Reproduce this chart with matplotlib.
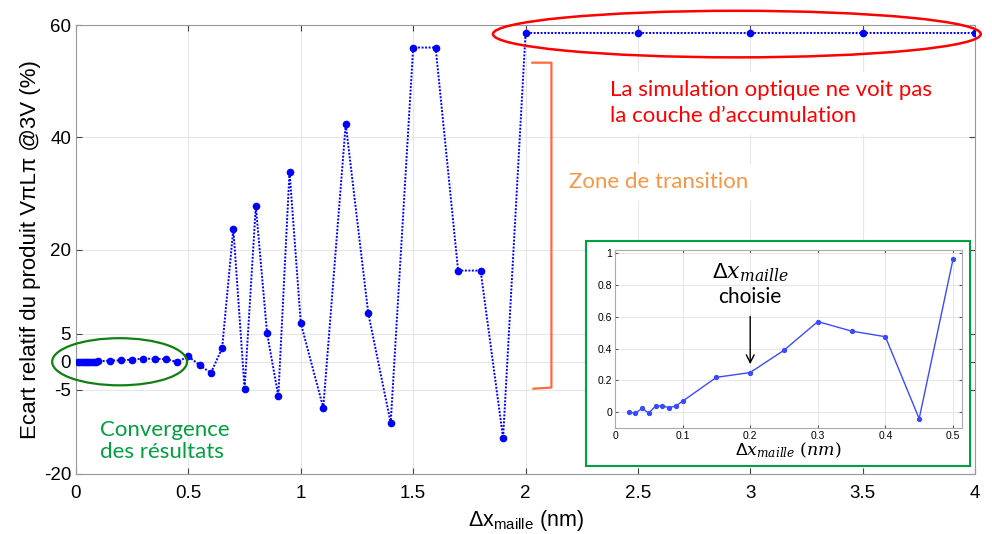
import numpy as np
import matplotlib
matplotlib.use("Agg")
import matplotlib.pyplot as plt
from matplotlib.patches import Ellipse, Rectangle

plt.rcParams['font.family'] = ['Liberation Sans', 'DejaVu Sans']
plt.rcParams['mathtext.default'] = 'regular'
plt.rcParams['axes.unicode_minus'] = False

# main curve: relative deviation (%) vs mesh step (nm)
x_main = [0.01, 0.02, 0.03, 0.04, 0.05, 0.06, 0.07, 0.08, 0.09, 0.10,
          0.15, 0.20, 0.25, 0.30, 0.35, 0.40, 0.45, 0.50,
          0.55, 0.60, 0.65, 0.70, 0.75, 0.80, 0.85, 0.90, 0.95, 1.00,
          1.1, 1.2, 1.3, 1.4, 1.5, 1.6, 1.7, 1.8, 1.9, 2.0,
          2.5, 3.0, 3.5, 4.0]
y_main = [0.0, 0.0, -0.005, 0.025, -0.005, 0.04, 0.04, 0.03, 0.04, 0.07,
          0.22, 0.25, 0.39, 0.57, 0.51, 0.475, -0.04, 0.96,
          -0.6, -2.0, 2.4, 23.7, -4.8, 27.7, 5.1, -6.1, 33.9, 6.9,
          -8.2, 42.4, 8.7, -10.9, 56.0, 56.0, 16.25, 16.25, -13.6, 58.6,
          58.6, 58.6, 58.6, 58.6]

# inset zoom on the converged region
x_zoom = [0.02, 0.03, 0.04, 0.05, 0.06, 0.07, 0.08, 0.09, 0.10,
          0.15, 0.20, 0.25, 0.30, 0.35, 0.40, 0.45, 0.50]
y_zoom = [0.0, -0.005, 0.025, -0.005, 0.04, 0.04, 0.03, 0.04, 0.07,
          0.22, 0.25, 0.39, 0.57, 0.51, 0.475, -0.04, 0.96]

y_ticks = [-20, -5, 0, 5, 20, 40, 60]
x_ticks = [0, 0.5, 1, 1.5, 2, 2.5, 3, 3.5, 4]
x_ticklabels = ['0', '0.5', '1', '1.5', '2', '2.5', '3', '3.5', '4']

GREEN = '#00A040'
RED = '#FF0000'
ORANGE = '#F79646'
BRACKET = '#FF6A3D'
ANNOT_FONT = ['Lato', 'DejaVu Sans']

fig = plt.figure(figsize=(9.92, 5.34), dpi=100)
ax = fig.add_axes([0.0766, 0.1124, 0.9064, 0.8406])

ax.plot(x_main, y_main, ls=(0, (1, 0.8)), lw=1.4, color='#0000FF', marker='o',
        ms=4.5, zorder=3)
ax.set_xlim(0, 4)
ax.set_ylim(-20, 60)
ax.set_xticks(x_ticks)
ax.set_xticklabels(x_ticklabels)
ax.set_yticks(y_ticks)
ax.grid(True, color='#e6e6e6', lw=0.8)
ax.tick_params(direction='in', length=4, labelsize=13.5, top=True, right=True,
               color='#444444')
ax.tick_params(axis='x', pad=8)
for s in ax.spines.values():
    s.set_color('#999999')
ax.set_ylabel('Ecart relatif du produit V\u03c0L\u03c0 @3V (%)', fontsize=16,
              labelpad=2)
ax.set_xlabel('\u0394x$_{maille}$ (nm)', fontsize=15.5, labelpad=4)

# green ellipse: converged region
ax.add_patch(Ellipse((0.194, 0.0), 0.6, 8.4, fill=False, ec='#108010',
                     lw=1.6, clip_on=False, zorder=4))
ax.text(0.105, -10.3, 'Convergence\ndes r\u00e9sultats', color=GREEN,
        fontsize=16, family=ANNOT_FONT, va='top', ha='left', linespacing=1.15)

# red ellipse: accumulation layer not seen
ax.add_patch(Ellipse((2.94, 58.4), 2.17, 8.3, fill=False, ec=RED,
                     lw=1.8, clip_on=False, zorder=4))
ax.text(2.375, 50.2, 'La simulation optique ne voit pas\nla couche d\u2019accumulation',
        color=RED, fontsize=16, family=ANNOT_FONT, va='top', ha='left',
        linespacing=1.4,
        bbox=dict(facecolor='white', edgecolor='none', pad=6), zorder=5)

# orange bracket: transition zone
ax.plot([2.03, 2.115, 2.115, 2.035], [53.3, 53.3, -4.6, -4.8], color=BRACKET,
        lw=1.6, zorder=4)
ax.text(2.195, 32.0, 'Zone de transition', color=ORANGE, fontsize=16,
        family=ANNOT_FONT, va='center', ha='left',
        bbox=dict(facecolor='white', edgecolor='none', pad=6), zorder=5)

# inset
fig.add_artist(Rectangle((0.5907, 0.1273), 0.387, 0.4213, transform=fig.transFigure,
                         facecolor='white', edgecolor=GREEN, lw=1.5, zorder=6))
ins = fig.add_axes([0.62, 0.198, 0.3495, 0.334], zorder=7)
ins.plot(x_zoom, y_zoom, color='#3a4bff', lw=1.0, marker='o', ms=2.8)
ins.set_xlim(0, 0.513)
ins.set_ylim(-0.1, 1.02)
ins.set_xticks([0, 0.1, 0.2, 0.3, 0.4, 0.5])
ins.set_xticklabels(['0', '0.1', '0.2', '0.3', '0.4', '0.5'])
ins.set_yticks([0, 0.2, 0.4, 0.6, 0.8, 1])
ins.set_yticklabels(['0', '0.2', '0.4', '0.6', '0.8', '1'])
ins.grid(True, color='#e6e6e6', lw=0.7)
ins.tick_params(direction='in', length=2.5, labelsize=7.5, top=True, right=True,
                color='#555555', pad=2)
for s in ins.spines.values():
    s.set_color('#aaaaaa')
ins.set_xlabel(r'$\Delta \mathit{x}_{\mathit{maille}}\ \mathit{(nm)}$', fontsize=12.5,
               labelpad=0, math_fontfamily='dejavuserif')
ins.text(0.2, 0.875, r'$\Delta \mathit{x}_{\mathit{maille}}$', fontsize=16,
         ha='center', va='center', math_fontfamily='dejavuserif')
ins.text(0.2, 0.725, 'choisie', fontsize=15, ha='center', va='center',
         family=ANNOT_FONT)
ins.annotate('', xy=(0.2, 0.285), xytext=(0.2, 0.62),
             arrowprops=dict(arrowstyle='->', color='black', lw=1.0,
                             mutation_scale=14))

fig.savefig('out.png', dpi=100)
